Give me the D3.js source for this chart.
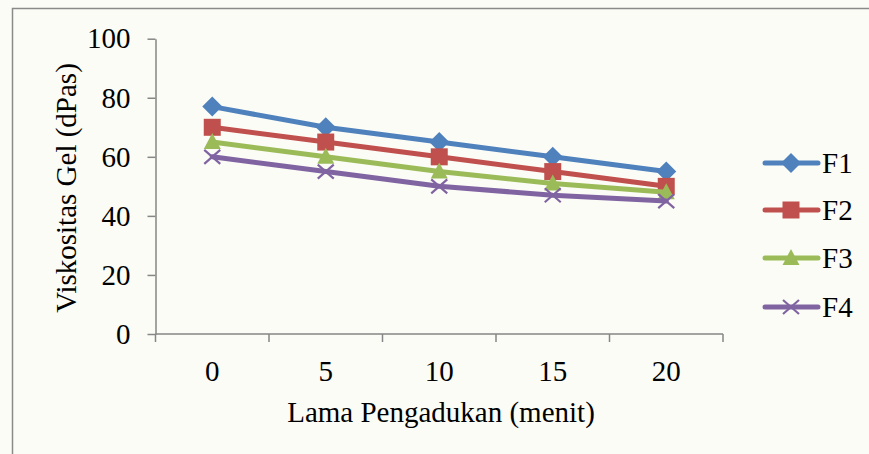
<!DOCTYPE html>
<html>
<head>
<meta charset="utf-8">
<script src="https://cdn.jsdelivr.net/npm/d3@7"></script>
<style>
  html, body { margin: 0; padding: 0; background: #fcfcf6; }
  svg { display: block; }
  svg text { font-family: "Times New Roman", "Liberation Serif", Tinos, "DejaVu Serif", serif !important; fill: #000; }
</style>
</head>
<body>
<svg id="chart" width="869" height="454"></svg>
<script>
// Stirring time (minutes) and gel viscosity per formula
const minutes = [0, 5, 10, 15, 20];
const f1 = [77, 70, 65, 60, 55];
const f2 = [70, 65, 60, 55, 50];
const f3 = [65, 60, 55, 51, 48];
const f4 = [60, 55, 50, 47, 45];
const yTicks = [0, 20, 40, 60, 80, 100];
const seriesNames = ["F1", "F2", "F3", "F4"];
const seriesValues = [f1, f2, f3, f4];
const seriesColors = ["#4F81BD", "#C0504D", "#9BBB59", "#8064A2"];
const seriesSymbols = ["diamond", "square", "triangle", "cross"];

const serif = "'Times New Roman', 'Liberation Serif', serif";
const svg = d3.select("#chart").attr("font-family", serif);
const W = 869, H = 454;

// chart area frame
svg.append("rect")
  .attr("x", 12.5).attr("y", 8.5)
  .attr("width", W + 20).attr("height", H + 20)
  .attr("fill", "#fcfcf6")
  .attr("stroke", "#8a8a8a").attr("stroke-width", 1.5);

const plotLeft = 155.5, plotRight = 723, plotTop = 38.7, plotBottom = 334;

const x = d3.scaleBand().domain(minutes).range([plotLeft, plotRight]).padding(0);
const y = d3.scaleLinear().domain([0, 100]).range([plotBottom, plotTop]);

const axisColor = "#868686";
const fontSize = 29;

// y axis
const yAxis = svg.append("g")
  .attr("transform", `translate(${plotLeft},0)`)
  .call(d3.axisLeft(y).tickValues(yTicks).tickSize(8).tickPadding(17).tickSizeOuter(0));
yAxis.attr("font-family", serif).attr("font-size", fontSize);
yAxis.select(".domain").attr("stroke", axisColor).attr("stroke-width", 1.5);
yAxis.selectAll(".tick line").attr("stroke", axisColor).attr("stroke-width", 1.5);
yAxis.selectAll(".tick text").attr("fill", "#000");

// x axis, ticks placed between categories
const xAxisG = svg.append("g").attr("transform", `translate(0,${plotBottom})`);
xAxisG.append("line")
  .attr("x1", plotLeft).attr("x2", plotRight)
  .attr("stroke", axisColor).attr("stroke-width", 1.5);
const bounds = minutes.map(m => x(m)).concat([plotRight]);
xAxisG.selectAll("line.tk").data(bounds).join("line")
  .attr("class", "tk")
  .attr("x1", d => d).attr("x2", d => d)
  .attr("y1", 0).attr("y2", 8)
  .attr("stroke", axisColor).attr("stroke-width", 1.5);
xAxisG.selectAll("text.lbl").data(minutes).join("text")
  .attr("class", "lbl")
  .attr("x", d => x(d) + x.bandwidth() / 2)
  .attr("y", 47)
  .attr("text-anchor", "middle")
  .attr("font-size", fontSize)
  .text(d => d);

// axis titles
svg.append("text")
  .attr("x", 441).attr("y", 422)
  .attr("text-anchor", "middle")
  .attr("font-size", fontSize)
  .text("Lama Pengadukan (menit)");

svg.append("text")
  .attr("transform", `translate(76,188) rotate(-90)`)
  .attr("text-anchor", "middle")
  .attr("font-size", fontSize)
  .text("Viskositas Gel (dPas)");

// marker drawing
function marker(g, type, color) {
  if (type === "diamond") {
    g.append("path").attr("d", "M0,-10 L10,0 L0,10 L-10,0 Z").attr("fill", color);
  } else if (type === "square") {
    g.append("rect").attr("x", -8.5).attr("y", -8.5).attr("width", 17).attr("height", 17).attr("fill", color);
  } else if (type === "triangle") {
    g.append("path").attr("d", "M0,-9 L8.5,7 L-8.5,7 Z").attr("fill", color);
  } else {
    g.append("path").attr("d", "M-8,-7 L8,7 M-8,7 L8,-7")
      .attr("stroke", color).attr("stroke-width", 2.2).attr("fill", "none");
  }
}

const line = d3.line()
  .x((d, i) => x(minutes[i]) + x.bandwidth() / 2)
  .y(d => y(d));

seriesValues.forEach((vals, si) => {
  const g = svg.append("g");
  g.append("path")
    .datum(vals)
    .attr("d", line)
    .attr("fill", "none")
    .attr("stroke", seriesColors[si])
    .attr("stroke-width", 5)
    .attr("stroke-linejoin", "round")
    .attr("stroke-linecap", "round");
  vals.forEach((v, i) => {
    const mg = g.append("g")
      .attr("transform", `translate(${x(minutes[i]) + x.bandwidth() / 2},${y(v)})`);
    marker(mg, seriesSymbols[si], seriesColors[si]);
  });
});

// legend
const legendY = [163, 210, 258, 307];
seriesNames.forEach((name, i) => {
  const g = svg.append("g").attr("transform", `translate(0,${legendY[i]})`);
  g.append("line").attr("x1", 765).attr("x2", 818)
    .attr("stroke", seriesColors[i]).attr("stroke-width", 5).attr("stroke-linecap", "round");
  const mg = g.append("g").attr("transform", "translate(791,0)");
  marker(mg, seriesSymbols[i], seriesColors[i]);
  g.append("text").attr("x", 822).attr("y", 10).attr("font-size", fontSize).text(name);
});
</script>
</body>
</html>
